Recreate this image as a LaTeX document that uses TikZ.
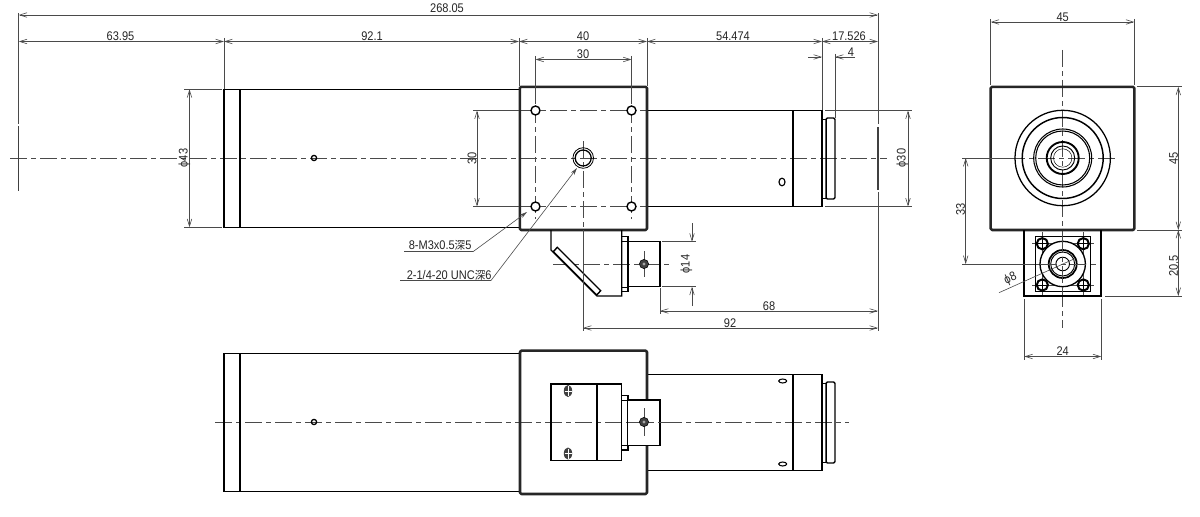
\documentclass[tikz,border=0pt]{standalone}
\usepackage{fontspec}
\usetikzlibrary{arrows.meta}
\newfontfamily\dimfont[FakeStretch=0.88]{Liberation Sans}
\newfontfamily\cjkfont[FakeStretch=0.95]{Noto Sans CJK JP}
\definecolor{dimgrey}{HTML}{4A4A4A}
\tikzset{
  x=0.75pt,y=-0.75pt,
  obj/.style={line width=1.05pt,black},
  heavy/.style={line width=1.9pt,black!85,line join=round,rounded corners=1pt},
  thinobj/.style={line width=0.6pt,black},
  dimline/.style={line width=0.45pt,dimgrey},
  dimarrow/.style={dimline,{Straight Barb[length=5.5pt,width=3.4pt]}-{Straight Barb[length=5.5pt,width=3.4pt]}},
  endarrow/.style={dimline,-{Straight Barb[length=5.5pt,width=3.4pt]}},
  extline/.style={line width=0.45pt,dimgrey},
  center/.style={line width=0.45pt,dimgrey,dash pattern=on 13pt off 3pt on 3.5pt off 3pt},
  dimtext/.style={font=\dimfont\fontsize{9.4}{10}\selectfont,text=black!85,inner sep=0pt},
  vtext/.style={dimtext,rotate=90}
}
\begin{document}
\begin{tikzpicture}
\useasboundingbox (0,0) rectangle (1200,517);
\fill[white] (0,0) rectangle (1200,517);

% ---------- centre lines ----------
\draw[center] (10,158) -- (887,158);
\draw[center] (535.5,106) -- (535.5,219);
\draw[center] (631.5,106) -- (631.5,219);
\draw[center] (520,110.5) -- (646,110.5);
\draw[center] (520,206.5) -- (646,206.5);
\draw[center] (583,141) -- (583,230);
\draw[center] (553,264) -- (670,264);
\draw[center] (215,422) -- (849,422);
\draw[extline] (644,251) -- (644,277);
\draw[extline] (644,408) -- (644,436);
\draw[center] (1062.7,50) -- (1062.7,328);
\draw[center] (1008,158) -- (1118,158);
\draw[center] (1030,264) -- (1096,264);
\foreach \yy in {243.7,285}{\draw[extline] (1032,\yy) -- (1094,\yy);}
\foreach \xx in {1042.3,1083.3}{\draw[extline] (\xx,232) -- (\xx,296);}

% ---------- top view ----------
\draw[obj] (224,89.3) rectangle (240,227.3);
\draw[line width=1.5pt] (240,89.3) -- (240,227.3);
\draw[obj] (240,89.3) -- (519.5,89.3);
\draw[obj] (240,227.3) -- (519.5,227.3);
\draw[obj] (647,110.5) -- (793,110.5);
\draw[obj] (647,206.7) -- (793,206.7);
\draw[line width=1.5pt] (793,110.5) -- (793,206.7);
\draw[obj] (793,110.5) -- (822,110.5) -- (822,206.7) -- (793,206.7);
\draw[thinobj] (822,119) rectangle (826,198);
\draw[obj,rounded corners=1pt] (826,118) rectangle (835,199);
\draw[heavy] (519.8,86.8) rectangle (647,230);
\foreach \xx in {535.5,631.5}\foreach \yy in {110.5,206.5}{
  \fill[white] (\xx,\yy) circle[radius=4.5];
  \draw[line width=1.05pt] (\xx,\yy) circle[radius=4.5];}
\draw[thinobj] (583.2,158) circle[radius=10.3];
\draw[line width=0.95pt] (583.2,158) circle[radius=8];
\draw[line width=0.95pt] (314,158) circle[radius=2.6];
\draw[line width=0.85pt] (782,182) ellipse[x radius=3,y radius=3.8];

% bracket below the block
\draw[obj] (551,230) -- (551,250) -- (597,296) -- (621.7,296) -- (621.7,230);
\draw[obj,fill=white] (553.3,251.7) -- (557.3,247.3) -- (600.7,290.7) -- (596.7,295) -- cycle;
\draw[obj] (621.7,236.7) rectangle (628,291.7);
\draw[thinobj] (621.7,241.5) -- (628,241.5);
\draw[thinobj] (621.7,287) -- (628,287);
\draw[obj] (628,241.7) -- (660,241.7) -- (660,286.7) -- (628,286.7);
\fill[black!75] (644,264) circle[radius=4.6];
\fill[black!35] (644,264) circle[radius=1.7];
\draw[black] (644,264) circle[radius=4.6];

% ---------- bottom view ----------
\draw[obj] (224,353.5) rectangle (240,491.5);
\draw[line width=1.5pt] (240,353.5) -- (240,491.5);
\draw[obj] (240,353.5) -- (520,353.5);
\draw[obj] (240,491.5) -- (520,491.5);
\draw[line width=0.95pt] (314,422) circle[radius=2.6];
\draw[obj] (648,374.5) -- (822,374.5) -- (822,470.5) -- (648,470.5);
\draw[line width=1.5pt] (793,374.5) -- (793,470.5);
\draw[thinobj] (822,383) rectangle (826,462);
\draw[obj,rounded corners=1pt] (826,382) rectangle (835,463);
\draw[line width=0.8pt] (782.7,381) ellipse[x radius=4,y radius=2];
\draw[line width=0.8pt] (782.7,464) ellipse[x radius=4,y radius=2];
\draw[heavy] (520,350.7) rectangle (647,494);
\draw[obj] (551,384) rectangle (621.7,460.7);
\draw[line width=1.3pt] (596.7,384) -- (596.7,460.7);
\draw[line width=1.3pt] (551,384) -- (551,460.7);
\draw[obj] (621.7,395.7) rectangle (628,450);
\draw[thinobj] (621.7,400) -- (628,400);
\draw[thinobj] (621.7,445.5) -- (628,445.5);
\draw[obj,fill=white] (628,400) -- (660,400) -- (660,445.5) -- (628,445.5);
\draw[center] (628,422) -- (670,422);
\draw[extline] (644,408) -- (644,436);
\foreach \yy in {391,453.5}{
  \fill[black!75] (568,\yy) ellipse[x radius=4.2,y radius=6];
  \draw[white,line width=0.4pt] (568,\yy-5) -- (568,\yy+5);
  \draw[white,line width=0.4pt] (564.5,\yy) -- (571.5,\yy);}
\fill[black!75] (644,422) circle[radius=4.6];
\fill[black!35] (644,422) circle[radius=1.7];
\draw[black] (644,422) circle[radius=4.6];

% ---------- end view ----------
\draw[heavy] (990.7,86.8) rectangle (1134.3,230);
\draw[line width=0.95pt] (1062.7,158) circle[radius=47.7];
\draw[line width=1.1pt] (1062.7,158) circle[radius=40.5];
\draw[line width=0.8pt] (1062.7,158) circle[radius=29];
\draw[line width=0.8pt] (1062.7,158) circle[radius=27];
\draw[line width=1.4pt] (1062.7,158) circle[radius=16];
\draw[line width=0.7pt] (1062.7,158) circle[radius=12];
\draw[line width=0.35pt] (1062.7,158) circle[radius=9.2];
\draw[line width=1.3pt] (1024.3,230) -- (1024.3,296) -- (1101.3,296) -- (1101.3,230);
\draw[thinobj] (1035,236.7) rectangle (1090.7,291.7);
\foreach \xx in {1042.3,1083.3}\foreach \yy in {243.7,285}{
  \draw[line width=1.5pt] (\xx,\yy) circle[radius=5.6];
  \draw[thinobj] (\xx-5.5,\yy) -- (\xx+5.5,\yy);
  \draw[thinobj] (\xx,\yy-5.5) -- (\xx,\yy+5.5);}
\draw[line width=1pt,fill=white] (1062.7,264) circle[radius=22.7];
\draw[line width=1.3pt] (1062.7,264) circle[radius=14];
\draw[line width=0.7pt] (1062.7,264) circle[radius=12];
\draw[line width=0.7pt] (1062.7,264) circle[radius=6.8];
\draw[center] (1062.7,236) -- (1062.7,292);
\draw[center] (1040,264) -- (1086,264);

% ---------- extension lines ----------
\draw[extline] (18.7,13) -- (18.7,124);
\draw[line width=0.85pt,black!75] (18.7,126) -- (18.7,191);
\draw[extline] (878,13) -- (878,124);
\draw[line width=0.85pt,black!75] (878,127) -- (878,190);
\draw[extline] (878,192) -- (878,331);
\draw[extline] (224,38) -- (224,89);
\draw[extline] (519,38) -- (519,86);
\draw[extline] (647,38) -- (647,86);
\draw[extline] (822,38) -- (822,110);
\draw[extline] (835,54) -- (835,118);
\draw[extline] (535.5,56) -- (535.5,104);
\draw[extline] (631.5,56) -- (631.5,104);
\draw[extline] (184,89.3) -- (222,89.3);
\draw[extline] (184,227.3) -- (222,227.3);
\draw[extline] (473,110.5) -- (519,110.5);
\draw[extline] (473,206.5) -- (519,206.5);
\draw[extline] (825,110.5) -- (912,110.5);
\draw[extline] (825,206.5) -- (912,206.5);
\draw[extline] (662,241.7) -- (696,241.7);
\draw[extline] (662,286.7) -- (696,286.7);
\draw[extline] (660,288) -- (660,314);
\draw[extline] (583,230) -- (583,331);
\draw[extline] (990.7,19) -- (990.7,85);
\draw[extline] (1134.3,19) -- (1134.3,85);
\draw[extline] (1137,86.8) -- (1182,86.8);
\draw[extline] (1137,230) -- (1182,230);
\draw[extline] (1105,296) -- (1182,296);
\draw[extline] (962,158) -- (1010,158);
\draw[extline] (962,264) -- (1030,264);
\draw[extline] (1024.3,299) -- (1024.3,360);
\draw[extline] (1101.3,299) -- (1101.3,360);

% ---------- dimensions ----------
\draw[dimarrow] (18.7,15) -- (878,15);
\node[dimtext] (d26805) at (447,8.5) {268.05};
\draw[dimarrow] (18.7,41.5) -- (224,41.5);
\node[dimtext] (d6395) at (120.5,36) {63.95};
\draw[dimarrow] (224,41.5) -- (519,41.5);
\node[dimtext] (d921) at (372,36) {92.1};
\draw[dimarrow] (519,41.5) -- (647,41.5);
\node[dimtext] (d40) at (583,36) {40};
\draw[dimarrow] (647,41.5) -- (822,41.5);
\node[dimtext] (d54474) at (733,36) {54.474};
\draw[dimarrow] (822,41.5) -- (878,41.5);
\node[dimtext] (d17526) at (849,36) {17.526};
\coordinate (four1) at (808,57);
\coordinate (four2) at (855,57);
\draw[endarrow] (four1) -- (822,57);
\draw[endarrow] (four2) -- (835,57);
\node[dimtext] (d4) at (851,52) {4};
\draw[dimarrow] (535.5,59.5) -- (631.5,59.5);
\node[dimtext] (d30a) at (583,54) {30};
\draw[dimarrow] (477,110.5) -- (477,206.5);
\node[vtext] (d30b) at (472,158) {30};
\draw[dimarrow] (189.5,89.3) -- (189.5,227.3);
\node[vtext] (d43) at (184.5,158) {ϕ43};
\draw[dimarrow] (908,110.5) -- (908,206.5);
\node[vtext] (d30c) at (902.5,158) {ϕ30};
\coordinate (fa) at (692,223);
\coordinate (fb) at (692,306);
\draw[endarrow] (fa) -- (692,241.7);
\draw[endarrow] (fb) -- (692,286.7);
\node[vtext] (d14) at (686.5,264) {ϕ14};
\draw[dimarrow] (660,311) -- (878,311);
\node[dimtext] (d68) at (769,306) {68};
\draw[dimarrow] (583,328) -- (878,328);
\node[dimtext] (d92) at (730,323) {92};
\draw[dimarrow] (990.7,22) -- (1134.3,22);
\node[dimtext] (d45a) at (1062.7,17) {45};
\draw[dimarrow] (1178.3,86.8) -- (1178.3,230);
\node[vtext] (d45b) at (1173.5,158) {45};
\draw[dimarrow] (1178.3,230) -- (1178.3,296);
\node[vtext] (d205) at (1173.5,266) {20.5};
\draw[dimarrow] (965.7,158) -- (965.7,264);
\node[vtext] (d33) at (960.5,209) {33};
\draw[dimarrow] (1024.3,356.5) -- (1101.3,356.5);
\node[dimtext] (d24) at (1062.7,351) {24};

% phi 8 leader
\coordinate (p1) at (999,292.7);
\coordinate (p2) at (1074,259);
\draw[dimline] (p1) -- (p2);
\node[dimtext,rotate=24] (d8) at (1010.5,279) {ϕ8};

% ---------- leaders ----------
\coordinate (la) at (404,251.7);
\coordinate (lb) at (473,251.7);
\coordinate (lc) at (527,212);
\draw[dimline] (la) -- (lb);
\draw[dimline,-{Stealth[length=5.5pt,width=3pt]}] (lb) -- (lc);
\node[dimtext,anchor=base west] (t1) at (408.5,249.5) {8-M3x0.5{\cjkfont\fontsize{8.3}{9}\selectfont 深}5};
\coordinate (ld) at (400,280.5);
\coordinate (le) at (491,280.5);
\coordinate (lf) at (577,168);
\draw[dimline] (ld) -- (le);
\draw[dimline,-{Stealth[length=5.5pt,width=3pt]}] (le) -- (lf);
\node[dimtext,anchor=base west] (t2) at (406.5,279) {2-1/4-20 UNC{\cjkfont\fontsize{8.3}{9}\selectfont 深}6};
\end{tikzpicture}
\end{document}
